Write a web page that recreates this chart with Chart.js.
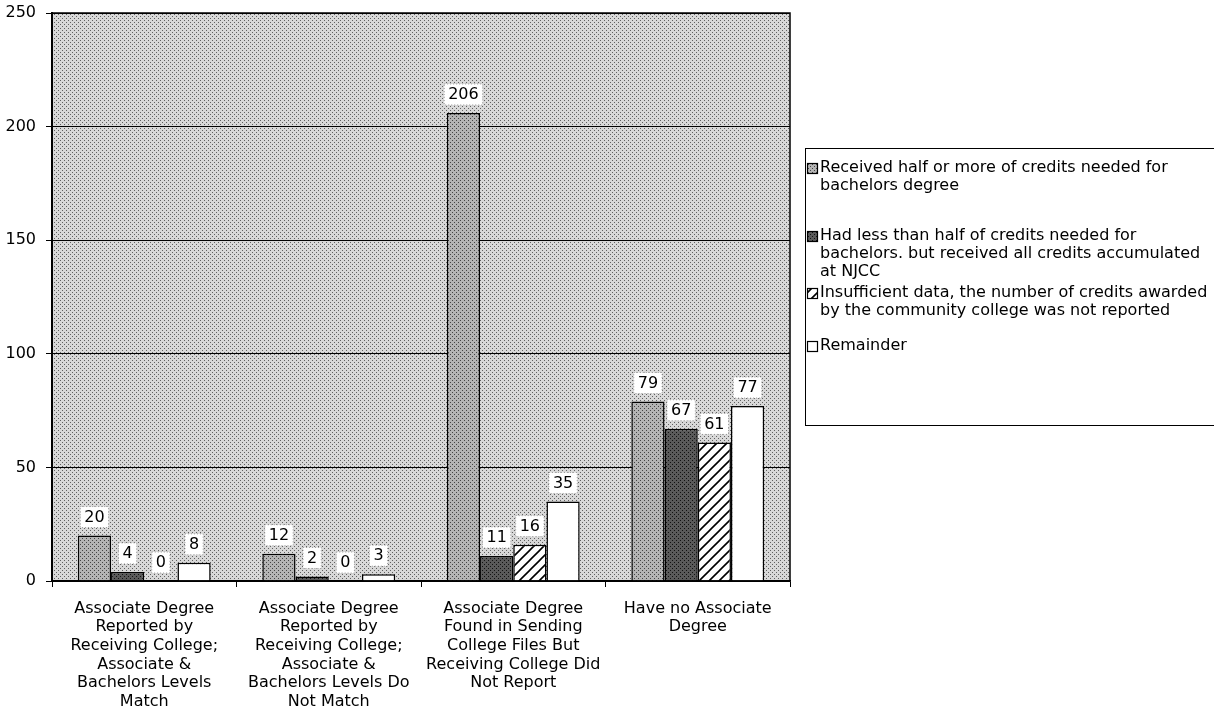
<!DOCTYPE html>
<html>
<head>
    <title>Associate Degree Credits</title>
    <script src="https://cdn.jsdelivr.net/npm/chart.js"></script>
    <style>
        body { margin: 0; background: #fff; }
    </style>
</head>
<body>
    <canvas id="chart" width="1214" height="727"></canvas>

    <script>
        const categories = [
            ['Associate Degree', 'Reported by', 'Receiving College;', 'Associate &', 'Bachelors Levels', 'Match'],
            ['Associate Degree', 'Reported by', 'Receiving College;', 'Associate &', 'Bachelors Levels Do', 'Not Match'],
            ['Associate Degree', 'Found in Sending', 'College Files But', 'Receiving College Did', 'Not Report'],
            ['Have no Associate', 'Degree']
        ];
        const halfOrMore = [20, 12, 206, 79];
        const lessThanHalf = [4, 2, 11, 67];
        const insufficient = [0, 0, 16, 61];
        const remainder = [8, 3, 35, 77];
        const yTicks = [0, 50, 100, 150, 200, 250];
        const legendLines = [
            ['Received half or more of credits needed for', 'bachelors degree'],
            ['Had less than half of credits needed for', 'bachelors. but received all credits accumulated', 'at NJCC'],
            ['Insufficient data, the number of credits awarded', 'by the community college was not reported'],
            ['Remainder']
        ];

        const FONT = '"DejaVu Sans", "Liberation Sans", sans-serif';

        // small tiles for the stippled look of the scanned chart
        function dotPattern(base, dot, step) {
            const c = document.createElement('canvas');
            c.width = step * 2; c.height = step * 2;
            const g = c.getContext('2d');
            g.fillStyle = base;
            g.fillRect(0, 0, c.width, c.height);
            g.fillStyle = dot;
            g.fillRect(0, 0, 1, 1);
            g.fillRect(step, step, 1, 1);
            return g.createPattern(c, 'repeat');
        }
        function hatchPattern() {
            const c = document.createElement('canvas');
            c.width = 10; c.height = 10;
            const g = c.getContext('2d');
            g.fillStyle = '#fff';
            g.fillRect(0, 0, 10, 10);
            g.strokeStyle = '#000';
            g.lineWidth = 1.6;
            g.beginPath();
            g.moveTo(-2, 12); g.lineTo(12, -2);
            g.moveTo(-7, 7); g.lineTo(7, -7);
            g.moveTo(3, 17); g.lineTo(17, 3);
            g.stroke();
            return g.createPattern(c, 'repeat');
        }

        const bgFill = dotPattern('#d8d8d8', '#606060', 2);
        const fills = [
            dotPattern('#b4b4b4', '#444', 2),
            dotPattern('#5a5a5a', '#111', 2),
            hatchPattern(),
            '#ffffff'
        ];

        const plotBackground = {
            id: 'plotBackground',
            beforeDraw(chart) {
                const { ctx, chartArea: a } = chart;
                ctx.save();
                ctx.fillStyle = bgFill;
                ctx.fillRect(a.left, a.top, a.right - a.left, a.bottom - a.top);
                ctx.restore();
            },
            afterDraw(chart) {
                const { ctx, chartArea: a } = chart;
                ctx.save();
                ctx.strokeStyle = '#000';
                ctx.lineWidth = 1.5;
                ctx.strokeRect(a.left, a.top, a.right - a.left, a.bottom - a.top);
                ctx.restore();
            }
        };

        const valueLabels = {
            id: 'valueLabels',
            afterDatasetsDraw(chart) {
                const ctx = chart.ctx;
                ctx.save();
                ctx.font = '16px ' + FONT;
                ctx.textAlign = 'center';
                ctx.textBaseline = 'middle';
                chart.data.datasets.forEach((ds, i) => {
                    chart.getDatasetMeta(i).data.forEach((bar, j) => {
                        const txt = String(ds.data[j]);
                        const w = ctx.measureText(txt).width + 8;
                        const cy = bar.y - 19;
                        ctx.fillStyle = '#fff';
                        ctx.fillRect(bar.x - w / 2, cy - 10, w, 21);
                        ctx.setLineDash([1, 2]);
                        ctx.strokeStyle = '#999';
                        ctx.lineWidth = 1;
                        ctx.strokeRect(bar.x - w / 2, cy - 10, w, 21);
                        ctx.setLineDash([]);
                        ctx.fillStyle = '#000';
                        ctx.fillText(txt, bar.x, cy + 1);
                    });
                });
                ctx.restore();
            }
        };

        const sideLegend = {
            id: 'sideLegend',
            afterDraw(chart) {
                const ctx = chart.ctx;
                const x0 = 805, y0 = 148;
                const starts = [168, 236, 293, 346];
                ctx.save();
                ctx.fillStyle = '#fff';
                ctx.fillRect(x0, y0, 420, 277);
                ctx.strokeStyle = '#000';
                ctx.lineWidth = 1;
                ctx.strokeRect(x0 + 0.5, y0 + 0.5, 420, 277);
                ctx.font = '16px ' + FONT;
                ctx.textBaseline = 'middle';
                ctx.textAlign = 'left';
                legendLines.forEach((lines, i) => {
                    const y = starts[i];
                    ctx.fillStyle = fills[i];
                    ctx.fillRect(807, y - 5, 10, 10);
                    ctx.strokeStyle = '#000';
                    ctx.lineWidth = 1.2;
                    ctx.strokeRect(807.5, y - 4.5, 10, 10);
                    ctx.fillStyle = '#000';
                    lines.forEach((line, k) => {
                        ctx.fillText(line, 820, y + k * 17.8);
                    });
                });
                ctx.restore();
            }
        };

        const seriesValues = [halfOrMore, lessThanHalf, insufficient, remainder];

        new Chart(document.getElementById('chart'), {
            type: 'bar',
            data: {
                labels: categories,
                datasets: seriesValues.map((vals, i) => ({
                    label: legendLines[i].join(' '),
                    data: vals,
                    backgroundColor: fills[i],
                    borderColor: '#000',
                    borderWidth: 1.5,
                    borderSkipped: 'bottom',
                    categoryPercentage: 0.72,
                    barPercentage: 1.0
                }))
            },
            options: {
                responsive: false,
                animation: false,
                devicePixelRatio: 1,
                layout: { padding: { left: 0, right: 424, top: 13, bottom: 2 } },
                plugins: {
                    legend: { display: false },
                    tooltip: { enabled: false }
                },
                scales: {
                    x: {
                        grid: { display: true, drawOnChartArea: false, offset: true, color: '#000', tickLength: 6 },
                        border: { color: '#000', width: 1.5 },
                        afterFit(axis) { axis.height = 144; },
                        ticks: {
                            color: '#000',
                            font: { family: FONT, size: 16, lineHeight: 1.17 },
                            maxRotation: 0,
                            autoSkip: false,
                            padding: 12
                        }
                    },
                    y: {
                        min: 0,
                        max: 250,
                        afterBuildTicks(axis) { axis.ticks = yTicks.map(v => ({ value: v })); },
                        afterFit(axis) {
                            axis.width = 52;
                            axis.paddingTop = 0;
                            axis.paddingBottom = 0;
                        },
                        grid: { color: '#000', lineWidth: 1, tickLength: 6 },
                        border: { color: '#000', width: 2 },
                        ticks: {
                            color: '#000',
                            font: { family: FONT, size: 16 },
                            padding: 10
                        }
                    }
                }
            },
            plugins: [plotBackground, valueLabels, sideLegend]
        });
    </script>
</body>
</html>
